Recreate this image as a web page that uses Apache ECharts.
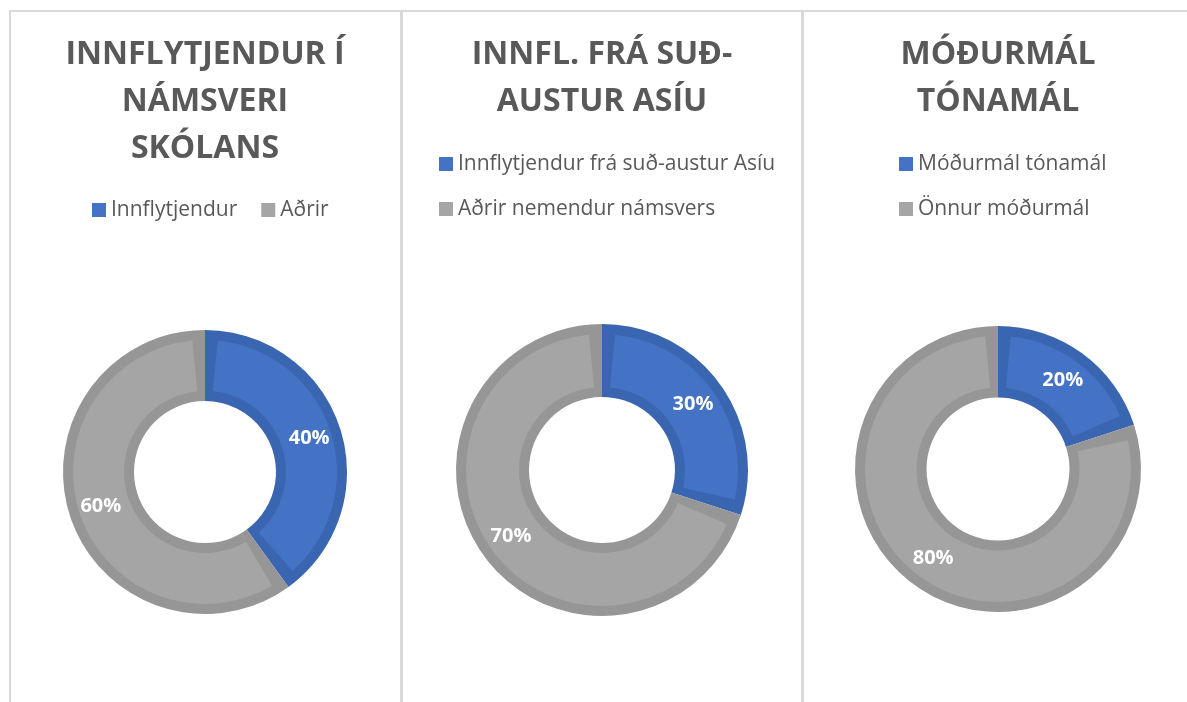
<!DOCTYPE html>
<html>
<head>
<meta charset="utf-8">
<title>Innflytjendur</title>
<script src="https://cdn.jsdelivr.net/npm/echarts@6/dist/echarts.min.js"></script>
<style>
html,body{margin:0;padding:0;background:#fff;}
#chart{width:1187px;height:702px;}
</style>
</head>
<body>
<div id="chart"></div>
<script>
// titles of the three panels
const titles = [
    'INNFLYTJENDUR Í\nNÁMSVERI\nSKÓLANS',
    'INNFL. FRÁ SUÐ-\nAUSTUR ASÍU',
    'MÓÐURMÁL\nTÓNAMÁL'
];
// slice names per panel
const names1 = ['Innflytjendur', 'Aðrir'];
const names2 = ['Innflytjendur frá suð-austur Asíu', 'Aðrir nemendur námsvers'];
const names3 = ['Móðurmál tónamál', 'Önnur móðurmál'];
// slice values (%)
const values1 = [40, 60];
const values2 = [30, 70];
const values3 = [20, 80];

const fills = ['#4472C4', '#A5A5A5'];
const edges = ['#3A65B0', '#969696'];
const font = '"Open Sans", "Noto Sans", sans-serif';

// one entry per panel: where the donut sits
const panels = [
    {names: names1, values: values1, cx: 205, cy: 472, r: 142, title: titles[0]},
    {names: names2, values: values2, cx: 602, cy: 470, r: 146, title: titles[1]},
    {names: names3, values: values3, cx: 998, cy: 469, r: 143, title: titles[2]}
];

let series = [];
panels.forEach((p, i) => {
    let inner = p.r / 2;
    // coloured face, drawn above
    series.push({
        name: 'face' + i,
        type: 'pie',
        z: 3,
        center: [p.cx, p.cy],
        radius: [inner + 10, p.r - 10],
        startAngle: 90,
        padAngle: 11,
        percentPrecision: 0,
        silent: true,
        data: p.names.map((n, k) => ({name: n, value: p.values[k], itemStyle: {color: fills[k]}})),
        label: {
            show: true,
            position: 'inside',
            formatter: '{d}%',
            color: '#fff',
            fontFamily: font,
            fontWeight: 'bold',
            fontSize: 20
        },
        labelLine: {show: false},
        emphasis: {disabled: true}
    });
    // darker rim under it
    series.push({
        name: 'rim' + i,
        type: 'pie',
        z: 2,
        center: [p.cx, p.cy],
        radius: [inner, p.r],
        startAngle: 90,
        silent: true,
        data: p.names.map((n, k) => ({name: n, value: p.values[k], itemStyle: {color: edges[k]}})),
        label: {show: false},
        labelLine: {show: false},
        emphasis: {disabled: true}
    });
});

const legendText = {color: '#595959', fontFamily: font, fontSize: 21, lineHeight: 22};
const legendData = names => names.map((n, k) => ({name: n, itemStyle: {color: fills[k]}}));

const option = {
    backgroundColor: '#fff',
    animation: false,
    title: panels.map(p => ({
        text: p.title,
        left: p.cx,
        top: 31,
        padding: 0,
        textAlign: 'center',
        textStyle: {
            color: '#595959',
            fontFamily: font,
            fontWeight: 'bold',
            fontSize: 32,
            lineHeight: 47
        }
    })),
    legend: [
        {
            data: legendData(names1),
            orient: 'horizontal',
            left: 92,
            top: 199,
            padding: 0,
            itemWidth: 14,
            itemHeight: 14,
            itemGap: 24,
            icon: 'rect',
            selectedMode: false,
            textStyle: legendText
        },
        {
            data: legendData(names2),
            orient: 'vertical',
            left: 439,
            top: 153,
            padding: 0,
            itemWidth: 14,
            itemHeight: 14,
            itemGap: 23,
            icon: 'rect',
            selectedMode: false,
            textStyle: legendText
        },
        {
            data: legendData(names3),
            orient: 'vertical',
            left: 899,
            top: 153,
            padding: 0,
            itemWidth: 14,
            itemHeight: 14,
            itemGap: 23,
            icon: 'rect',
            selectedMode: false,
            textStyle: legendText
        }
    ],
    graphic: [
        {type: 'rect', z: -1, shape: {x: 10, y: 11, width: 391, height: 720}, style: {fill: 'none', stroke: '#D9D9D9', lineWidth: 2}},
        {type: 'rect', z: -1, shape: {x: 402, y: 11, width: 400, height: 720}, style: {fill: 'none', stroke: '#D9D9D9', lineWidth: 2}},
        {type: 'rect', z: -1, shape: {x: 803, y: 11, width: 400, height: 720}, style: {fill: 'none', stroke: '#D9D9D9', lineWidth: 2}}
    ],
    series: series
};

const chart = echarts.init(document.getElementById('chart'));
chart.setOption(option);
</script>
</body>
</html>
